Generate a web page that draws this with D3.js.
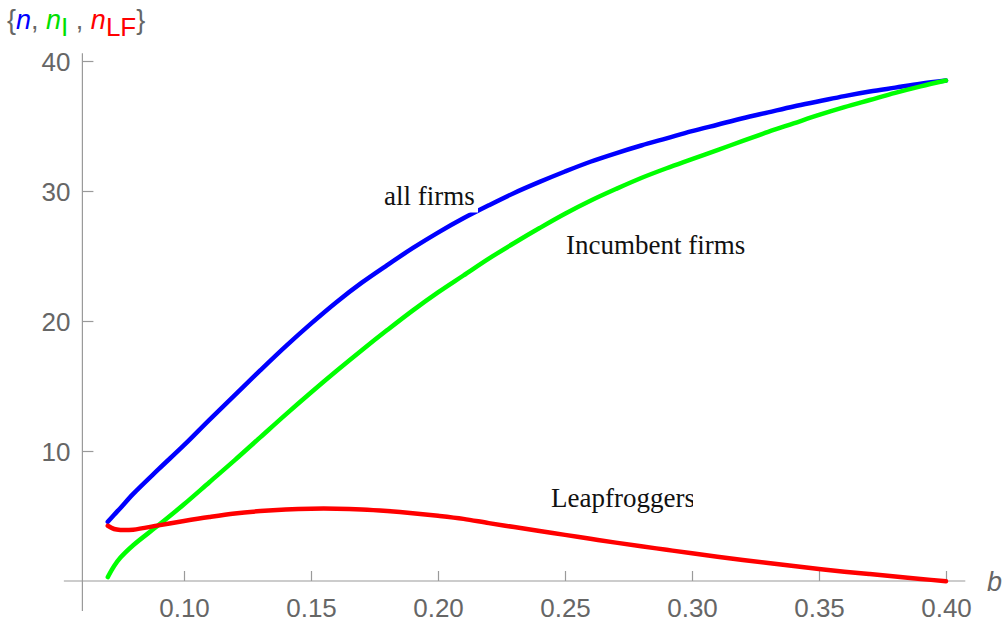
<!DOCTYPE html>
<html>
<head>
<meta charset="utf-8">
<script src="https://cdn.jsdelivr.net/npm/d3@7"></script>
<style>
  html, body { margin: 0; padding: 0; background: #fff; }
  svg { display: block; }
</style>
</head>
<body>
<svg id="chart" width="1005" height="624"></svg>
<script>
// Parameter b and the three firm counts
const bValues = [0.07, 0.0725, 0.075, 0.08, 0.09, 0.10, 0.11, 0.12, 0.13, 0.14, 0.15, 0.16, 0.17, 0.18, 0.19,
  0.20, 0.21, 0.22, 0.23, 0.24, 0.25, 0.26, 0.27, 0.28, 0.29, 0.30, 0.31, 0.32, 0.33, 0.34, 0.35,
  0.36, 0.37, 0.38, 0.39, 0.40];
const nAll = [4.55, 5.1, 5.62, 6.7, 8.6, 10.45, 12.4, 14.3, 16.2, 18.05, 19.8, 21.45, 22.95, 24.3, 25.6,
  26.8, 27.9, 28.9, 29.85, 30.7, 31.5, 32.25, 32.9, 33.5, 34.05, 34.6, 35.1, 35.6, 36.05, 36.5, 36.9,
  37.3, 37.65, 37.95, 38.25, 38.5];
const nIncumbent = [0.3, 1.15, 1.8, 2.75, 4.3, 5.9, 7.6, 9.3, 11.05, 12.8, 14.5, 16.15, 17.75, 19.3, 20.8,
  22.2, 23.5, 24.8, 26.0, 27.15, 28.25, 29.25, 30.15, 31.0, 31.75, 32.45, 33.15, 33.85, 34.55, 35.2, 35.85,
  36.45, 37.0, 37.55, 38.05, 38.5];
const nLeapfrog = [4.25, 4.0, 3.93, 3.95, 4.28, 4.62, 4.93, 5.2, 5.38, 5.5, 5.56, 5.56, 5.5, 5.38, 5.22,
  5.02, 4.78, 4.45, 4.15, 3.85, 3.55, 3.25, 2.95, 2.67, 2.4, 2.13, 1.87, 1.62, 1.38, 1.15, 0.93,
  0.72, 0.53, 0.35, 0.16, -0.02];

const xMajorTicks = [0.10, 0.15, 0.20, 0.25, 0.30, 0.35, 0.40];
const xMinorTicks = d3.range(7, 41).map(i => i / 100).filter(v => Math.round(v * 100) % 5 !== 0);
const yMajorTicks = [10, 20, 30, 40];
const yMinorTicks = [-2, 2, 4, 6, 8, 12, 14, 16, 18, 22, 24, 26, 28, 32, 34, 36, 38];

const svg = d3.select("#chart");
const x = d3.scaleLinear().domain([0.07, 0.40]).range([107.8, 946]);
const y = d3.scaleLinear().domain([0, 40]).range([581, 61]);

const axisColor = "#9a9a9a";
const labelColor = "#666";

// Axis lines
const xOrigin = 0.06;
svg.append("line")
  .attr("x1", x(0.0527)).attr("x2", x(0.4076))
  .attr("y1", y(0)).attr("y2", y(0))
  .attr("stroke", axisColor).attr("stroke-width", 1.2);
svg.append("line")
  .attr("x1", x(xOrigin)).attr("x2", x(xOrigin))
  .attr("y1", y(40.6)).attr("y2", y(-2.3))
  .attr("stroke", axisColor).attr("stroke-width", 1.2);

// X ticks (pointing up from the axis)
const gx = svg.append("g").attr("transform", `translate(0,${y(0)})`);
gx.call(d3.axisBottom(x).tickValues(xMinorTicks).tickSize(-6).tickFormat(""));
gx.call(d3.axisBottom(x).tickValues(xMajorTicks).tickSize(-10).tickFormat(d3.format(".2f")));
gx.selectAll(".domain").remove();
gx.selectAll("line").attr("stroke", axisColor).attr("stroke-width", 1.2);
gx.selectAll("text")
  .attr("fill", labelColor)
  .attr("font-family", "'Liberation Sans', Arial, sans-serif")
  .attr("font-size", 26)
  .attr("y", 36)
  .attr("dy", 0);

// Y ticks (pointing right from the axis)
const gy = svg.append("g").attr("transform", `translate(${x(xOrigin)},0)`);
gy.call(d3.axisLeft(y).tickValues(yMinorTicks).tickSize(-6).tickFormat(""));
gy.call(d3.axisLeft(y).tickValues(yMajorTicks).tickSize(-11).tickPadding(-11));
gy.selectAll(".domain").remove();
gy.selectAll("line").attr("stroke", axisColor).attr("stroke-width", 1.2);
gy.selectAll("text")
  .attr("fill", labelColor)
  .attr("font-family", "'Liberation Sans', Arial, sans-serif")
  .attr("font-size", 26)
  .attr("x", -12)
  .attr("dy", "0.35em");

// Axis label b
svg.append("text")
  .attr("x", 987).attr("y", 591)
  .attr("fill", labelColor)
  .attr("font-family", "'Liberation Sans', Arial, sans-serif")
  .attr("font-style", "italic")
  .attr("font-size", 27)
  .text("b");

// Top label {n, n_I, n_LF}
const head = svg.append("text")
  .attr("x", 7).attr("y", 29)
  .attr("font-family", "'Liberation Sans', Arial, sans-serif")
  .attr("font-size", 27)
  .attr("fill", labelColor);
head.append("tspan").text("{");
head.append("tspan").attr("fill", "#0000ff").attr("font-style", "italic").text("n");
head.append("tspan").text(", ");
head.append("tspan").attr("fill", "#00e000").attr("font-style", "italic").text("n");
head.append("tspan").attr("fill", "#00e000").attr("dy", 7).attr("font-size", 26).text("I");
head.append("tspan").attr("dy", -7).text(" , ");
head.append("tspan").attr("fill", "#ff0000").attr("font-style", "italic").text("n");
head.append("tspan").attr("fill", "#ff0000").attr("dy", 7).attr("font-size", 26).text("LF");
head.append("tspan").attr("dy", -7).text("}");

// Curves
const series = [
  { values: nAll, color: "#0000ff" },
  { values: nIncumbent, color: "#00ff00" },
  { values: nLeapfrog, color: "#ff0000" }
];
const line = d3.line()
  .x(d => x(d[0]))
  .y(d => y(d[1]))
  .curve(d3.curveCatmullRom.alpha(0.5));
svg.append("g").selectAll("path")
  .data(series)
  .join("path")
  .attr("d", s => line(bValues.map((b, i) => [b, s.values[i]])))
  .attr("fill", "none")
  .attr("stroke", s => s.color)
  .attr("stroke-width", 4.5)
  .attr("stroke-linecap", "round")
  .attr("stroke-linejoin", "round");

// Curve labels
const serif = "'Liberation Serif', 'Times New Roman', serif";
svg.append("rect")
  .attr("x", 379).attr("y", 181).attr("width", 99).attr("height", 31.5)
  .attr("fill", "#fff");
svg.append("text")
  .attr("x", 384).attr("y", 205)
  .attr("font-family", serif).attr("font-size", 27).attr("fill", "#111")
  .text("all firms");
svg.append("text")
  .attr("x", 566).attr("y", 254)
  .attr("font-family", serif).attr("font-size", 27).attr("fill", "#111")
  .text("Incumbent firms");

svg.append("clipPath").attr("id", "leapClip")
  .append("rect").attr("x", 540).attr("y", 470).attr("width", 153).attr("height", 50);
svg.append("text")
  .attr("clip-path", "url(#leapClip)")
  .attr("x", 551).attr("y", 507)
  .attr("font-family", serif).attr("font-size", 27).attr("fill", "#111")
  .text("Leapfroggers");
</script>
</body>
</html>
